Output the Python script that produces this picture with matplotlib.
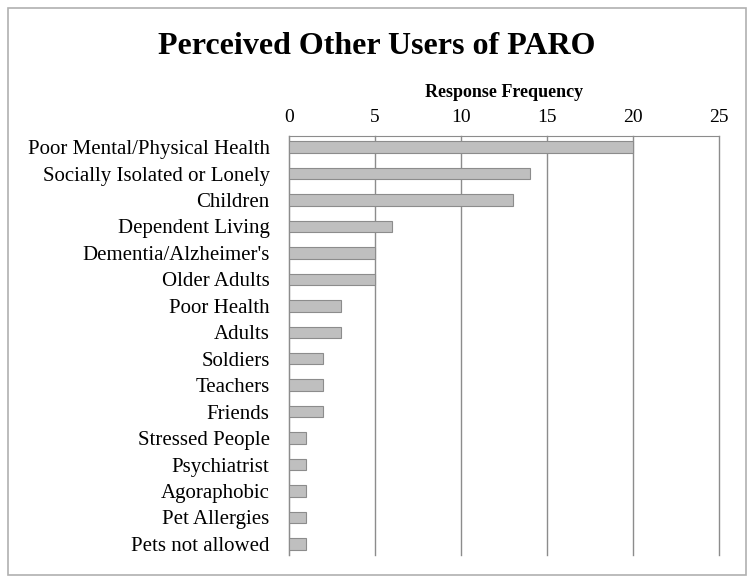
import matplotlib
matplotlib.use("Agg")
import matplotlib.pyplot as plt
from matplotlib.patches import Rectangle

# data
categories = ["Poor Mental/Physical Health", "Socially Isolated or Lonely", "Children",
              "Dependent Living", "Dementia/Alzheimer's", "Older Adults", "Poor Health",
              "Adults", "Soldiers", "Teachers", "Friends", "Stressed People",
              "Psychiatrist", "Agoraphobic", "Pet Allergies", "Pets not allowed"]
counts = [20, 14, 13, 6, 5, 5, 3, 3, 2, 2, 2, 1, 1, 1, 1, 1]
xticks = [0, 5, 10, 15, 20, 25]

plt.rcParams["font.family"] = ["Liberation Serif", "DejaVu Serif"]

fig = plt.figure(figsize=(7.54, 5.83), dpi=100)
# outer frame of the chart
fig.patches.append(Rectangle((8 / 754, 8 / 583), 738 / 754, 567 / 583, transform=fig.transFigure,
                             fill=False, edgecolor="#b0b0b0", linewidth=1.2))

ax = fig.add_axes([289 / 754, 28 / 583, 430 / 754, 419 / 583])
pos = list(range(len(categories)))
ax.barh(pos, counts, height=0.43, color="#bfbfbf", edgecolor="#8c8c8c", linewidth=0.8, zorder=3)

ax.set_xlim(0, 25)
ax.set_ylim(15.42, -0.42)
ax.set_xticks(xticks)
ax.set_yticks(pos)
ax.set_yticklabels(categories, fontsize=15)
ax.xaxis.tick_top()
ax.xaxis.set_label_position("top")
ax.tick_params(axis="x", length=0, labelsize=14, pad=7)
ax.tick_params(axis="y", length=0, pad=14)
ax.set_xlabel("Response Frequency", fontsize=13, fontweight="bold", labelpad=9)
ax.grid(axis="x", color="#8c8c8c", linewidth=1.0, zorder=0)
for gl in ax.get_xgridlines():
    gl.set_clip_on(False)

for side in ["right", "bottom"]:
    ax.spines[side].set_visible(False)
ax.spines["left"].set_color("#8c8c8c")
ax.spines["top"].set_color("#8c8c8c")

fig.text(0.5, 1 - 46 / 583, "Perceived Other Users of PARO", ha="center", va="center",
         fontsize=23, fontweight="bold")

fig.savefig("out.png", dpi=100)
